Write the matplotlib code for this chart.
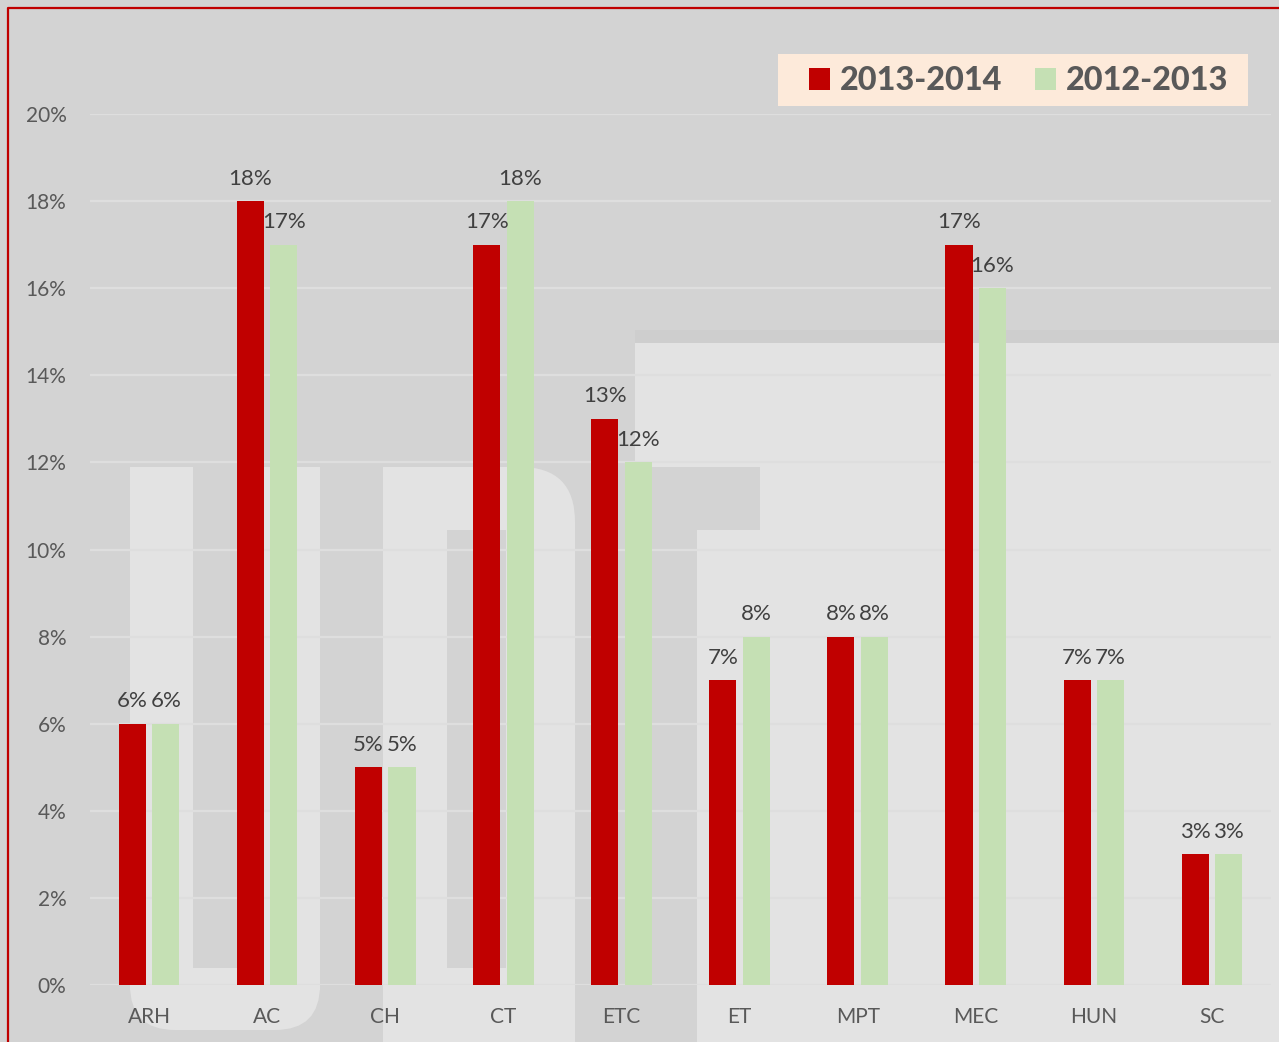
import matplotlib.pyplot as plt
import numpy as np
from matplotlib.patches import Rectangle, FancyBboxPatch
from matplotlib.lines import Line2D
from matplotlib.ticker import PercentFormatter

categories = ['ARH', 'AC', 'CH', 'CT', 'ETC', 'ET', 'MPT', 'MEC', 'HUN', 'SC']
share_2013_2014 = [6, 18, 5, 17, 13, 7, 8, 17, 7, 3]
share_2012_2013 = [6, 17, 5, 18, 12, 8, 8, 16, 7, 3]
series_names = ['2013-2014', '2012-2013']
y_ticks = [0, 2, 4, 6, 8, 10, 12, 14, 16, 18, 20]

RED = '#C00000'
GREEN = '#C5E0B4'
BG = '#D3D3D3'
LIGHT = '#E3E3E3'
TXT = '#595959'

W, H = 1279, 1042
plt.rcParams['font.family'] = ['Lato', 'DejaVu Sans']
fig = plt.figure(figsize=(W / 100, H / 100), dpi=100)
fig.patch.set_facecolor(BG)

# helpers for the background logo, pixel coords measured from top-left
def box(x0, y0, x1, y1, color=LIGHT):
    fig.patches.append(Rectangle((x0 / W, 1 - y1 / H), (x1 - x0) / W, (y1 - y0) / H,
                                 transform=fig.transFigure, facecolor=color,
                                 edgecolor='none', zorder=-10))

def rbox(x0, y0, x1, y1, r, color=LIGHT):
    fig.patches.append(FancyBboxPatch((x0 + r, H - y1 + r), (x1 - x0) - 2 * r, (y1 - y0) - 2 * r,
                                      boxstyle='round,pad=%d' % r, transform=None,
                                      facecolor=color, edgecolor='none', zorder=-10))

# faint "UPT" watermark
box(130, 467, 320, 990)
rbox(130, 900, 320, 1030, 45)
box(193, 460, 257, 968, BG)
box(383, 530, 575, 1042)
rbox(383, 467, 575, 640, 55)
box(383, 467, 500, 540)
box(447, 530, 506, 968, BG)
box(635, 330, 1279, 343, '#CECECE')
box(635, 343, 1279, 1042)
box(635, 467, 760, 530, BG)
box(635, 530, 697, 1042, BG)

# legend background
box(778, 54, 1248, 106, '#FDEADA')

# red frame
fig.lines.append(Line2D([8 / W, 8 / W, 1], [0, 1 - 8 / H, 1 - 8 / H],
                        transform=fig.transFigure, color=RED, lw=1.6, zorder=5))

ax = fig.add_axes([90 / W, 1 - 985 / H, (1271 - 90) / W, (985 - 114) / H])
ax.set_facecolor('none')
ax.set_zorder(1)

x = np.arange(len(categories))
bw = 0.229
off = 0.142
b1 = ax.bar(x - off, share_2013_2014, bw, color=RED, zorder=3, label=series_names[0])
b2 = ax.bar(x + off, share_2012_2013, bw, color=GREEN, zorder=3, label=series_names[1])

for bars, vals in ((b1, share_2013_2014), (b2, share_2012_2013)):
    for rect, v in zip(bars, vals):
        ax.annotate('%d%%' % v, (rect.get_x() + rect.get_width() / 2, v),
                    xytext=(0, 9), textcoords='offset points', ha='center',
                    va='bottom', fontsize=16, color='#404040')

ax.set_xlim(-0.5, len(categories) - 0.5)
ax.set_ylim(0, 20)
ax.set_yticks(y_ticks)
ax.yaxis.set_major_formatter(PercentFormatter(decimals=0))
ax.set_xticks(x)
ax.set_xticklabels(categories)
ax.tick_params(axis='both', length=0, labelsize=15, labelcolor=TXT)
ax.tick_params(axis='x', pad=16)
ax.tick_params(axis='y', pad=17)
ax.grid(axis='y', color='#DEDEDE', lw=1.6, zorder=1)
for s in ax.spines.values():
    s.set_visible(False)

leg = fig.legend(handles=[b1, b2], labels=series_names, loc='center right',
                 bbox_to_anchor=(1228 / W, 1 - 81 / H), ncol=2,
                 prop={'family': 'Lato', 'weight': 'black', 'size': 23.3},
                 handlelength=0.66, handleheight=0.66, handletextpad=0.3,
                 columnspacing=1.0, borderpad=0, borderaxespad=0,
                 frameon=False)
leg.set_zorder(6)
for t in leg.get_texts():
    t.set_color(TXT)

fig.savefig('out.png', dpi=100, facecolor=BG)
